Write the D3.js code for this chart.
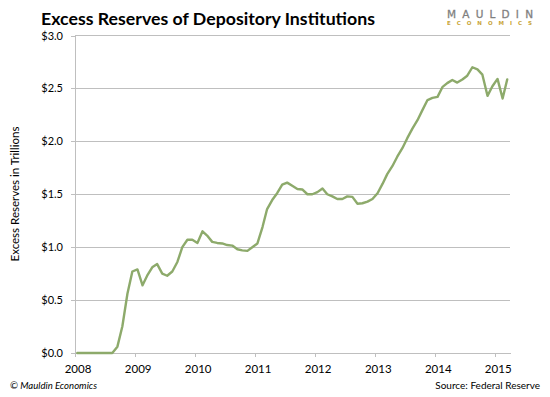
<!DOCTYPE html>
<html>
<head>
<meta charset="utf-8">
<script src="https://cdnjs.cloudflare.com/ajax/libs/d3/7.8.5/d3.min.js"></script>
<style>
  html, body { margin: 0; padding: 0; background: #ffffff; }
  svg { display: block; }
  text { font-family: Lato, "Open Sans", sans-serif; }
</style>
</head>
<body>
<svg id="chart" width="550" height="397"></svg>
<script>
// ---- data (monthly, Jan 2008 .. Mar 2015), trillions of dollars ----
const startYear = 2008;
const startMonth = 0; // January
const values = [
  0, 0, 0, 0, 0, 0, 0, 0, 0.06, 0.25, 0.56, 0.77,
  0.79, 0.64, 0.73, 0.81, 0.84, 0.75, 0.73, 0.77, 0.86, 1.00, 1.07, 1.07,
  1.04, 1.15, 1.11, 1.05, 1.04, 1.035, 1.02, 1.015, 0.98, 0.97, 0.965, 1.00,
  1.035, 1.19, 1.36, 1.445, 1.51, 1.59, 1.61, 1.58, 1.55, 1.545, 1.50, 1.50,
  1.52, 1.555, 1.50, 1.48, 1.455, 1.455, 1.48, 1.475, 1.41, 1.415, 1.43, 1.455,
  1.51, 1.60, 1.69, 1.765, 1.855, 1.935, 2.03, 2.12, 2.20, 2.295, 2.39, 2.41,
  2.42, 2.515, 2.55, 2.58, 2.555, 2.585, 2.62, 2.70, 2.68, 2.63, 2.43, 2.52,
  2.59, 2.405, 2.585
];
const yTicks = [0, 0.5, 1.0, 1.5, 2.0, 2.5, 3.0];
const xTickYears = [2008, 2009, 2010, 2011, 2012, 2013, 2014, 2015];
const titleText = "Excess Reserves of Depository Institutions";
const yTitle = "Excess Reserves in Trillions";
const creditText = "\u00A9 Mauldin Economics";
const sourceText = "Source: Federal Reserve";

// ---- build series ----
const series = values.map((v, i) => ({
  date: new Date(startYear, startMonth + i, 15),
  value: v
}));

const svg = d3.select("#chart");
const plotLeft = 75, plotRight = 510, plotTop = 35.5, plotBottom = 353;

const x = d3.scaleTime()
  .domain([new Date(2008, 0, 1), new Date(2015, 3, 1)])
  .range([plotLeft, plotRight]);
const y = d3.scaleLinear().domain([0, 3]).range([plotBottom, plotTop]);

const gridColor = "#bfbfbf";
const textColor = "#000000";

// gridlines
svg.append("g")
  .selectAll("line")
  .data(yTicks.filter(d => d > 0))
  .join("line")
  .attr("x1", plotLeft).attr("x2", plotRight)
  .attr("y1", d => y(d)).attr("y2", d => y(d))
  .attr("stroke", gridColor).attr("stroke-width", 1)
  .attr("shape-rendering", "crispEdges");

// y axis
const yAxis = svg.append("g")
  .attr("transform", `translate(${plotLeft},0)`)
  .call(d3.axisLeft(y).tickValues(yTicks).tickFormat(d3.format("$.1f")).tickSize(4).tickPadding(8));
yAxis.select(".domain").attr("stroke", gridColor).attr("shape-rendering", "crispEdges");
yAxis.selectAll(".tick line").attr("stroke", gridColor).attr("shape-rendering", "crispEdges");
yAxis.selectAll(".tick text")
  .attr("font-size", "11px").attr("fill", textColor)
  .style("font-family", "Lato, 'Open Sans', sans-serif");

// x axis
const xAxis = svg.append("g")
  .attr("transform", `translate(0,${plotBottom})`)
  .call(d3.axisBottom(x)
    .tickValues(xTickYears.map(yr => new Date(yr, 0, 1)))
    .tickFormat(d3.timeFormat("%Y"))
    .tickSize(4).tickSizeOuter(0).tickPadding(8));
xAxis.select(".domain").attr("stroke", gridColor).attr("shape-rendering", "crispEdges");
xAxis.selectAll(".tick line").attr("stroke", gridColor).attr("shape-rendering", "crispEdges");
xAxis.selectAll(".tick text")
  .attr("font-size", "11.5px").attr("fill", textColor).attr("dx", "2.5")
  .style("font-family", "Lato, 'Open Sans', sans-serif");

// line
const line = d3.line()
  .x(d => x(d.date))
  .y(d => y(d.value));
svg.append("path")
  .datum(series)
  .attr("d", line)
  .attr("fill", "none")
  .attr("stroke", "#8daa6b")
  .attr("stroke-width", 2.4)
  .attr("stroke-linejoin", "round")
  .attr("stroke-linecap", "round");

// title
svg.append("text")
  .attr("x", 41).attr("y", 25)
  .attr("font-size", "17.5px").attr("font-weight", "bold")
  .attr("fill", "#000")
  .attr("textLength", 334).attr("lengthAdjust", "spacingAndGlyphs")
  .text(titleText);

// y axis title
svg.append("text")
  .attr("transform", "translate(19,194) rotate(-90)")
  .attr("text-anchor", "middle")
  .attr("font-size", "12px").attr("fill", "#000")
  .attr("textLength", 135).attr("lengthAdjust", "spacingAndGlyphs")
  .text(yTitle);

// footer
svg.append("text")
  .attr("x", 10).attr("y", 389)
  .attr("font-size", "10px").attr("font-style", "italic").attr("fill", "#000")
  .attr("textLength", 87).attr("lengthAdjust", "spacingAndGlyphs")
  .text(creditText);
svg.append("text")
  .attr("x", 540).attr("y", 389)
  .attr("text-anchor", "end")
  .attr("font-size", "10px").attr("fill", "#000")
  .text(sourceText);

// logo
svg.append("text")
  .attr("x", 447).attr("y", 17.5)
  .attr("font-size", "10.5px").attr("fill", "#7f7f7f")
  .attr("stroke", "#7f7f7f").attr("stroke-width", 0.3)
  .style("font-family", "'DejaVu Sans', sans-serif")
  .attr("textLength", 86).attr("lengthAdjust", "spacing")
  .text("MAULDIN");
svg.append("text")
  .attr("x", 447).attr("y", 24.5)
  .attr("font-size", "5.5px").attr("font-weight", "bold").attr("fill", "#c9a53a")
  .style("font-family", "'DejaVu Sans', sans-serif")
  .attr("textLength", 85).attr("lengthAdjust", "spacing")
  .text("ECONOMICS");
</script>
</body>
</html>
